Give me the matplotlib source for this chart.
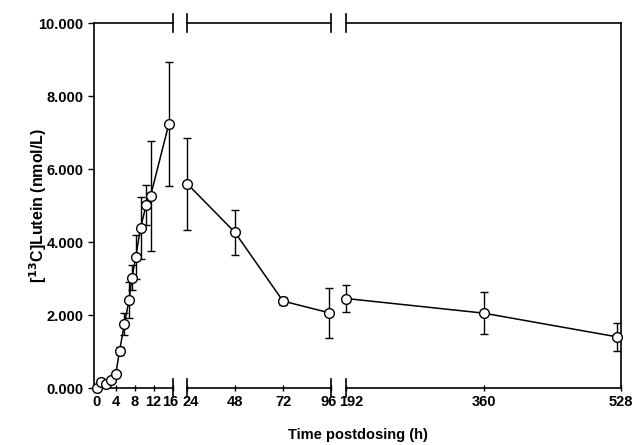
import matplotlib
matplotlib.use('Agg')
import matplotlib.pyplot as plt
import matplotlib.transforms as mtransforms
from matplotlib.ticker import FormatStrFormatter

# plasma [13C]lutein, mean +/- SD
time_early = [0, 1, 2, 3, 4, 4.8, 5.8, 6.8, 7.4, 8.2, 9.2, 10.4, 11.3, 15.1]
lutein_early = [0.0, 0.17, 0.13, 0.22, 0.38, 1.02, 1.75, 2.42, 3.03, 3.6, 4.4, 5.03, 5.27, 7.23]
sd_early = [0.0, 0.03, 0.03, 0.05, 0.06, 0.1, 0.3, 0.5, 0.35, 0.6, 0.85, 0.55, 1.5, 1.7]

time_mid = [24, 48, 72, 95]
lutein_mid = [5.61, 4.27, 2.39, 2.07]
sd_mid = [1.26, 0.62, 0.12, 0.68]

time_late = [192, 360, 523]
lutein_late = [2.46, 2.06, 1.41]
sd_late = [0.38, 0.58, 0.38]

ticks_early = [0, 4, 8, 12, 16]
ticks_mid = [24, 48, 72, 96]
ticks_late = [192, 360, 528]
y_ticks = [0, 2, 4, 6, 8, 10]

plt.rcParams['font.family'] = ['Liberation Sans', 'DejaVu Sans']
plt.rcParams['font.weight'] = 'bold'
plt.rcParams['font.size'] = 10

W, H = 633, 445
fig = plt.figure(figsize=(W / 100, H / 100), dpi=100)

bottom = (H - 388.3) / H
height = 365.0 / H


def make_axes(x0: float, x1: float) -> plt.Axes:
    return fig.add_axes([x0 / W, bottom, (x1 - x0) / W, height])


def shift_label(label, dx_px: float):
    """Nudge a tick label sideways by dx_px pixels."""
    offset = mtransforms.ScaledTranslation(dx_px / 100, 0, fig.dpi_scale_trans)
    label.set_transform(label.get_transform() + offset)


ax1 = make_axes(94, 173)
ax2 = make_axes(187, 331)
ax3 = make_axes(346, 621)

segments = [
    (ax1, time_early, lutein_early, sd_early, ticks_early, (-0.55, 16)),
    (ax2, time_mid, lutein_mid, sd_mid, ticks_mid, (24, 96)),
    (ax3, time_late, lutein_late, sd_late, ticks_late, (192, 528)),
]

d = 9.0 / 365.0
for ax, t, y, sd, ticks, xlim in segments:
    ax.errorbar(t, y, yerr=sd, color='black', lw=1.1, elinewidth=1.0, capsize=3,
                capthick=1.0, marker='o', markersize=7, markerfacecolor='white',
                markeredgecolor='black', markeredgewidth=1.0, clip_on=False, zorder=3)
    ax.set_xlim(*xlim)
    ax.set_ylim(0, 10)
    ax.set_xticks(ticks)
    ax.tick_params(axis='x', direction='inout', length=4, width=1, pad=3, labelsize=10.5)
    ax.patch.set_alpha(0)
    for side in ['top', 'bottom', 'left', 'right']:
        ax.spines[side].set_linewidth(1.2)
    ax.spines['left'].set_visible(ax is ax1)
    ax.spines['right'].set_visible(ax is ax3)
    if ax is not ax1:
        ax.tick_params(axis='y', left=False, labelleft=False)

    # break marks at the segment ends
    ends = []
    if ax is not ax1:
        ends.append(0)
    if ax is not ax3:
        ends.append(1)
    for xe in ends:
        for ye in (0, 1):
            ax.plot([xe, xe], [ye - d, ye + d], transform=ax.transAxes, color='black',
                    lw=1.2, clip_on=False)

# labels next to the breaks sit slightly away from the gap, as in the original
labels1 = ax1.get_xticklabels()
shift_label(labels1[3], -1)
shift_label(labels1[4], -3)
shift_label(ax2.get_xticklabels()[0], 4)
shift_label(ax2.get_xticklabels()[3], -2)
shift_label(ax3.get_xticklabels()[0], 5)

ax1.set_yticks(y_ticks)
ax1.yaxis.set_major_formatter(FormatStrFormatter('%.3f'))
ax1.tick_params(axis='y', direction='out', length=4, width=1, labelsize=10.5)

fig.text(38 / W, bottom + height / 2, r'[$\mathbf{^{13}}$C]Lutein (nmol/L)', rotation=90,
         ha='center', va='center', fontsize=11.5, fontweight='bold')
fig.text(358 / W, 1 - 435 / H, 'Time postdosing (h)', ha='center', va='center',
         fontsize=10.5, fontweight='bold')

fig.savefig('out.png', dpi=100)
